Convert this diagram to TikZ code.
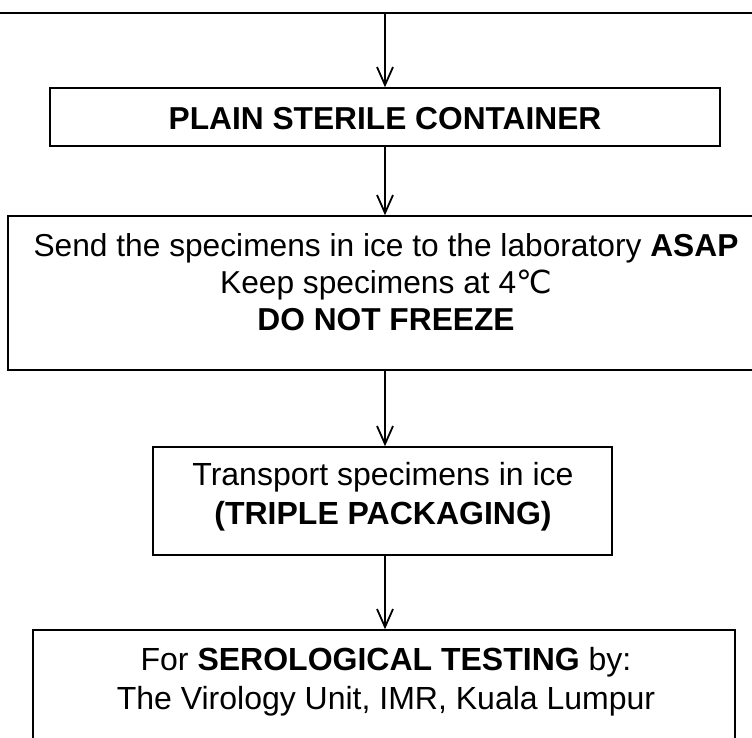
\documentclass[tikz,border=0pt]{standalone}
\usepackage{fontspec}
\setmainfont{Liberation Sans}
\newfontfamily\symfont{DejaVu Sans}
\usetikzlibrary{arrows.meta}
\tikzset{
  frame/.style={draw=black, line width=1.5pt, inner sep=0pt},
  label text/.style={align=center, inner sep=0pt,
    font=\fontsize{31.7}{37}\selectfont},
  wide text/.style={label text, font=\fontsize{32}{39}\selectfont},
  flow/.style={draw=black, line width=2pt,
    -{Straight Barb[length=18pt,width=16pt,line width=1.8pt]}},
}
\begin{document}
\begin{tikzpicture}[x=1pt,y=-1pt]
\useasboundingbox (0,0) rectangle (752,738);

% incoming line along the top edge
\draw[line width=2pt] (-5,13) -- (760,13);
\coordinate (top) at (385,13);

% boxes
\node[frame, minimum width=670pt, minimum height=58pt] (b1) at (385,117) {};
\node[frame, minimum width=762pt, minimum height=154pt] (b2) at (389,293) {};
\node[frame, minimum width=459pt, minimum height=108pt] (b3) at (382.5,501) {};
\node[frame, minimum width=702pt, minimum height=130pt] (b4) at (384,695) {};

% box texts
\node[label text] (t1) at (385,119) {\textbf{PLAIN STERILE CONTAINER}};
\node[label text] (t2) at (386,282) {Send the specimens in ice to the laboratory \textbf{ASAP}\\
  Keep specimens at 4{\symfont ℃}\\
  \textbf{DO NOT FREEZE}};
\node[wide text] (t3) at (383,497) {Transport specimens in ice\\ \textbf{(TRIPLE PACKAGING)}};
\node[wide text] (t4) at (386,682) {For \textbf{SEROLOGICAL TESTING} by:\\
  The Virology Unit, IMR, Kuala Lumpur};

% connectors
\draw[flow] (top) -- (b1.north);
\draw[flow] (b1.south) -- (b1.south |- b2.north);
\draw[flow] (b1.south |- b2.south) -- (b1.south |- b3.north);
\draw[flow] (b1.south |- b3.south) -- (b1.south |- b4.north);
\end{tikzpicture}
\end{document}
